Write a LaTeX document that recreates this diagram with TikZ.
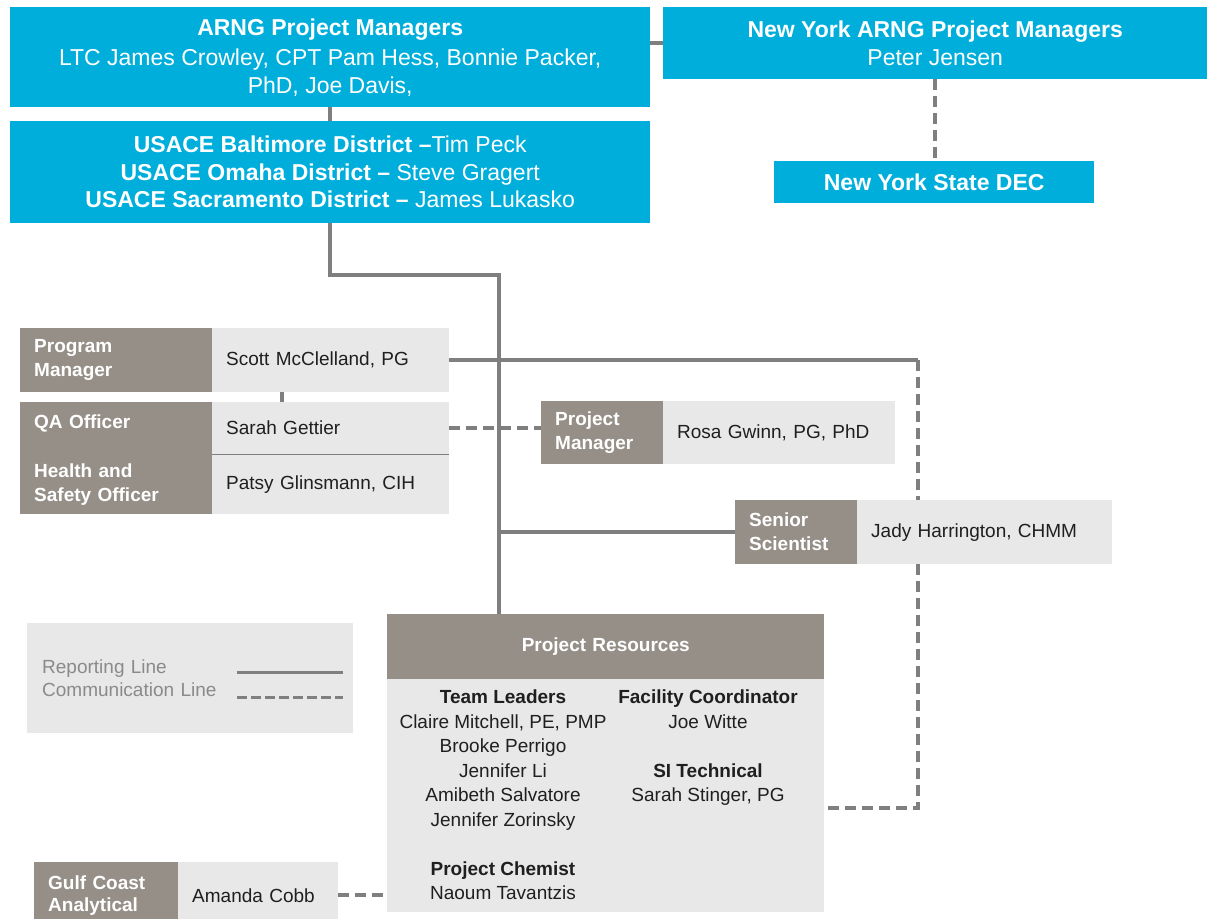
\documentclass[tikz,border=0pt]{standalone}
\usepackage{fontspec}
\setmainfont{Liberation Sans}
\usetikzlibrary{backgrounds,calc}
\definecolor{armyblue}{HTML}{00AEDB}
\definecolor{rolegray}{HTML}{958F88}
\definecolor{namegray}{HTML}{E8E8E8}
\definecolor{linegray}{HTML}{7F7F7F}
\definecolor{legendtext}{HTML}{8A8A8A}
\begin{document}
\begin{tikzpicture}[x=1pt,y=-1pt,
    bluebox/.style={fill=armyblue,text=white,inner sep=0pt,anchor=north west,
      align=center,font=\fontsize{23}{28}\selectfont},
    role/.style={fill=rolegray,text=white,anchor=north west,inner xsep=14pt,
      inner ysep=0pt,align=left,font=\bfseries\fontsize{19}{24}\selectfont},
    person/.style={fill=namegray,text=black!88,anchor=north west,inner xsep=14pt,
      inner ysep=0pt,align=left,font=\fontsize{19}{24}\selectfont},
    column/.style={anchor=north,inner sep=0pt,align=center,text=black!88,
      font=\fontsize{19}{24.5}\selectfont},
    report/.style={draw=linegray,line width=3.5pt},
    comm/.style={draw=linegray,line width=3.5pt,dash pattern=on 11pt off 6pt}]
  \useasboundingbox (0,0) rectangle (1212,918);
  \node[bluebox,minimum width=640pt,minimum height=100pt] (arng) at (10,7)
    {\textbf{ARNG Project Managers}\\[2pt]LTC James Crowley, CPT Pam Hess, Bonnie Packer,\\PhD, Joe Davis,};
  \node[bluebox,minimum width=640pt,minimum height=102pt,
    font=\fontsize{23}{27.5}\selectfont] (usace) at (10,121)
    {\textbf{USACE Baltimore District –}Tim Peck\\
     \textbf{USACE Omaha District –} Steve Gragert\\
     \textbf{USACE Sacramento District –} James Lukasko};
  \node[bluebox,minimum width=544pt,minimum height=72pt] (nyarng) at (663,7)
    {\textbf{New York ARNG Project Managers}\\Peter Jensen};
  \node[bluebox,minimum width=320pt,minimum height=42pt,
    font=\bfseries\fontsize{23}{28}\selectfont] (dec) at (774,161) {New York State DEC};
  \node[role,text width=164pt,minimum height=64pt] (pmrole) at (20,328) {Program\\Manager};
  \node[person,text width=209pt,minimum height=64pt] (pmname) at (212,328) {Scott McClelland, PG};
  \node[role,text width=164pt,minimum height=52pt,text depth=14pt] (qarole) at (20,402) {QA Officer};
  \node[person,text width=209pt,minimum height=52pt] (qaname) at (212,402) {Sarah Gettier};
  \node[role,text width=164pt,minimum height=60pt] (hsrole) at (20,454) {Health and\\Safety Officer};
  \node[person,text width=209pt,minimum height=60pt] (hsname) at (212,454) {Patsy Glinsmann, CIH};
  \node[role,text width=94pt,minimum height=63pt] (pjrole) at (541,401) {Project\\Manager};
  \node[person,text width=204pt,minimum height=63pt] (pjname) at (663,401) {Rosa Gwinn, PG, PhD};
  \node[role,text width=94pt,minimum height=64pt] (snrole) at (735,500) {Senior\\Scientist};
  \node[person,text width=227pt,minimum height=64pt] (snname) at (857,500) {Jady Harrington, CHMM};
  \node[role,text width=409pt,minimum height=65pt,align=center] (reshead) at (387,614) {Project Resources};
  \node[person,text width=409pt,minimum height=233pt] (res) at (387,679) {};
  \node[column] (leaders) at (503,690)
    {\textbf{Team Leaders}\\Claire Mitchell, PE, PMP\\Brooke Perrigo\\Jennifer Li\\
     Amibeth Salvatore\\Jennifer Zorinsky\\[24.5pt]\textbf{Project Chemist}\\Naoum Tavantzis};
  \node[column] (facility) at (708,690)
    {\textbf{Facility Coordinator}\\Joe Witte\\[24.5pt]\textbf{SI Technical}\\Sarah Stinger, PG};
  \node[person,text=legendtext,text width=296pt,minimum height=110pt,inner xsep=15pt,
    font=\fontsize{19}{23}\selectfont] (legend) at (27,623) {Reporting Line\\Communication Line};
  \node[role,text width=116pt,minimum height=66pt,font=\bfseries\fontsize{19}{22}\selectfont]
    (gcrole) at (34,862) {Gulf Coast\\Analytical};
  \node[person,text width=132pt,minimum height=66pt] (gcname) at (178,862) {Amanda Cobb};
  \coordinate (spinetop) at (499,275);
  \coordinate (rescorner) at (918,808);
  \coordinate (pmcorner) at (pmname.east -| rescorner);
  \coordinate (replinea) at (237,672);
  \coordinate (replineb) at (343,672);
  \coordinate (comlinea) at (237,697);
  \coordinate (comlineb) at (343,697);
  \draw[linegray,line width=1.2pt] (qaname.south west) -- (qaname.south east);
  \draw[report,line width=3pt] (replinea) -- (replineb);
  \draw[comm,line width=3pt,dash pattern=on 10pt off 4pt] (comlinea) -- (comlineb);
  \begin{scope}[on background layer]
    \draw[report] (arng) -- (usace);
    \draw[report] (arng.east |- nyarng.west) -- (nyarng.west);
    \draw[comm] (nyarng.south) -- (nyarng.south |- dec.north);
    \draw[report] (usace.south) |- (spinetop) -- (spinetop |- reshead.north);
    \draw[report] (spinetop |- snrole.west) -- (snrole.west);
    \draw[report] ([xshift=70pt]pmname.south west) -- ([xshift=70pt]qaname.north west);
    \draw[report] (pmname.east) -- (pmcorner);
    \draw[comm] (pmcorner) -- (rescorner) -- (rescorner -| res.east);
    \draw[comm] (qaname.east) -- (qaname.east -| pjrole.west);
    \draw[comm] (gcname.east) -- (gcname.east -| res.west);
  \end{scope}
\end{tikzpicture}
\end{document}
